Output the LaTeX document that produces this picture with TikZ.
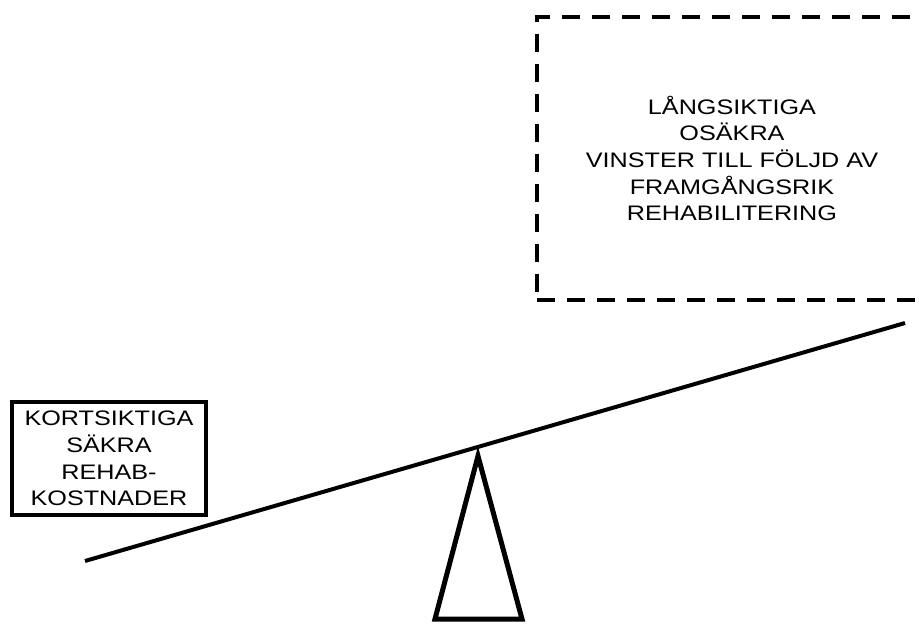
\documentclass[tikz,border=0pt]{standalone}
\usepackage{fontspec}
\setmainfont{Liberation Sans}[FakeStretch=1.2]
\usepackage{tikz}
\usetikzlibrary{positioning}

\begin{document}
\begin{tikzpicture}[x=1pt, y=-1pt, line width=4pt,
    lbl/.style={align=center, font=\fontsize{21}{26.7}\selectfont, inner sep=0pt}]
  \useasboundingbox (0,0) rectangle (919,624);
  \clip (0,0) rectangle (919,624);

  % osäkra vinster (dashed, runs off the right edge)
  \node[draw, dash pattern=on 18pt off 12pt, lbl, minimum width=390pt,
        minimum height=283pt] (gain) at (732,158.5)
    {LÅNGSIKTIGA\\OSÄKRA\\VINSTER TILL FÖLJD AV\\FRAMGÅNGSRIK\\REHABILITERING};

  % säkra kostnader
  \node[draw, lbl, minimum width=194pt, minimum height=113pt] (cost) at (109,458.5)
    {KORTSIKTIGA\\SÄKRA\\REHAB-\\KOSTNADER};

  % vågen
  \coordinate (beamL) at (85,561);
  \coordinate (beamR) at (905,323);
  \coordinate (pivot) at (478,456);
  \coordinate (footL) at (435,619);
  \coordinate (footR) at (522,619);

  \draw (beamL) -- (beamR);
  \draw[line width=5pt] (pivot) -- (footR) -- (footL) -- cycle;
\end{tikzpicture}
\end{document}
